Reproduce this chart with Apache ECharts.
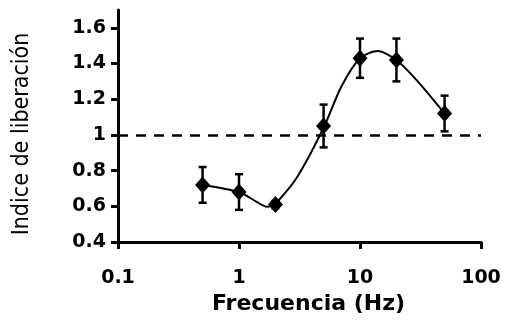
<!DOCTYPE html>
<html>
<head>
<meta charset="utf-8">
<script src="https://cdn.jsdelivr.net/npm/echarts@6/dist/echarts.min.js"></script>
<style>
html, body { margin: 0; padding: 0; background: #fff; }
#chart { width: 509px; height: 320px; }
</style>
</head>
<body>
<div id="chart"></div>
<script>
// frecuencias medidas (Hz) y su indice de liberacion
var freqs = [0.5, 1, 2, 5, 10, 20, 50];
var values = [0.72, 0.68, 0.61, 1.05, 1.43, 1.42, 1.12];
var errors = [0.10, 0.10, 0.02, 0.12, 0.11, 0.12, 0.10];

// curva ajustada
var fitX = [0.5, 1, 1.4, 1.7, 2, 3, 5, 7, 10, 14, 20, 30, 50];
var fitY = [0.72, 0.68, 0.625, 0.597, 0.615, 0.76, 1.04, 1.27, 1.43, 1.47, 1.42, 1.30, 1.12];

var yTicks = [0.4, 0.6, 0.8, 1, 1.2, 1.4, 1.6];
var xTicks = [0.1, 1, 10, 100];

var chart = echarts.init(document.getElementById('chart'));

var pts = freqs.map(function(f, i) { return [f, values[i]]; });
var bars = freqs.map(function(f, i) { return [f, values[i] - errors[i], values[i] + errors[i]]; });
var fit = fitX.map(function(f, i) { return [f, fitY[i]]; });

var option = {
    animation: false,
    grid: {
        left: 118,
        right: 28,
        top: 10,
        bottom: 78
    },
    xAxis: {
        type: 'log',
        logBase: 10,
        min: 0.1,
        max: 100,
        name: 'Frecuencia (Hz)',
        nameLocation: 'middle',
        nameGap: 50,
        nameTextStyle: {
            fontFamily: 'DejaVu Sans',
            fontWeight: 'bold',
            fontSize: 22,
            color: '#000',
            padding: [0, 0, 0, 18]
        },
        axisLine: {
            lineStyle: { color: '#000', width: 3 }
        },
        axisTick: {
            length: 7,
            lineStyle: { color: '#000', width: 3 },
            customValues: xTicks
        },
        axisLabel: {
            margin: 27,
            fontFamily: 'DejaVu Sans',
            fontWeight: 'bold',
            fontSize: 19,
            color: '#000',
            customValues: xTicks,
            formatter: function(v) { return String(v); }
        },
        splitLine: { show: false },
        minorTick: { show: false }
    },
    yAxis: {
        type: 'value',
        min: 0.4,
        max: 1.7,
        interval: 0.2,
        name: 'Indice de liberación',
        nameLocation: 'middle',
        nameGap: 84,
        nameRotate: 90,
        nameTextStyle: {
            fontFamily: '"DejaVu Sans Condensed", "Liberation Sans Narrow", "Liberation Sans", sans-serif',
            fontSize: 23,
            color: '#000',
            padding: [0, 16, 0, 0]
        },
        axisLine: {
            show: true,
            lineStyle: { color: '#000', width: 3 }
        },
        axisTick: {
            show: true,
            length: 7,
            lineStyle: { color: '#000', width: 3 },
            customValues: yTicks
        },
        axisLabel: {
            margin: 12,
            fontFamily: 'DejaVu Sans',
            fontWeight: 'bold',
            fontSize: 19,
            color: '#000',
            customValues: yTicks,
            formatter: function(v) { return String(+v.toFixed(1)); }
        },
        splitLine: { show: false }
    },
    series: [
        {
            name: 'ajuste',
            type: 'line',
            data: fit,
            smooth: 0.25,
            symbol: 'none',
            lineStyle: { color: '#000', width: 2 },
            z: 2
        },
        {
            name: 'error',
            type: 'custom',
            data: bars,
            renderItem: function(params, api) {
                var lo = api.coord([api.value(0), api.value(1)]);
                var hi = api.coord([api.value(0), api.value(2)]);
                var cap = 4;
                var style = { stroke: '#000', lineWidth: 2.5 };
                return {
                    type: 'group',
                    children: [
                        { type: 'line', shape: { x1: lo[0], y1: lo[1], x2: hi[0], y2: hi[1] }, style: style },
                        { type: 'line', shape: { x1: lo[0] - cap, y1: lo[1], x2: lo[0] + cap, y2: lo[1] }, style: style },
                        { type: 'line', shape: { x1: hi[0] - cap, y1: hi[1], x2: hi[0] + cap, y2: hi[1] }, style: style }
                    ]
                };
            },
            z: 3
        },
        {
            name: 'datos',
            type: 'scatter',
            data: pts,
            symbol: 'diamond',
            symbolSize: [15, 17],
            itemStyle: { color: '#000', opacity: 1 },
            z: 4,
            markLine: {
                silent: true,
                symbol: 'none',
                label: { show: false },
                lineStyle: { color: '#000', width: 2.5, type: [10, 8], opacity: 1 },
                data: [{ yAxis: 1 }]
            }
        }
    ]
};

chart.setOption(option);
</script>
</body>
</html>
